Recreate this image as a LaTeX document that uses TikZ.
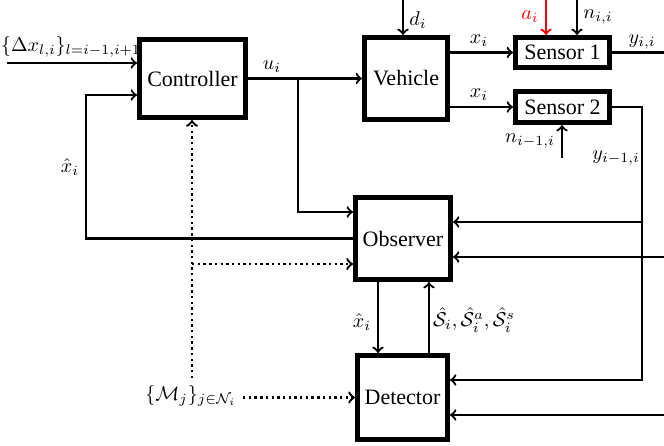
\documentclass[tikz,border=0pt]{standalone}
\usepackage[no-math]{fontspec}
\setmainfont{Liberation Serif}
\newfontfamily\tmsfont{Liberation Serif}
\begin{document}
\begin{tikzpicture}[x=0.5pt,y=-0.5pt, font=\tmsfont\fontsize{10}{12}\selectfont,
  blk/.style={draw, line width=2.5pt, inner sep=0pt, fill=white, font=\tmsfont\fontsize{11}{13}\selectfont},
  lbl/.style={inner sep=0pt},
  conn/.style={line width=1.1pt},
  arr/.style={conn,->},
  dots/.style={line width=1.2pt, dash pattern=on 1.2pt off 1.65pt, ->}]
\useasboundingbox (0,0) rectangle (664,445);
% blocks
\node[blk, minimum width=53pt, minimum height=39pt] (ctrl) at (192.5,78.5) {Controller};
\node[blk, minimum width=41.5pt, minimum height=41pt] (veh) at (406,78.5) {Vehicle};
\node[blk, minimum width=47pt, minimum height=15pt] (s1) at (562.5,52.5) {Sensor 1};
\node[blk, minimum width=47pt, minimum height=15.5pt] (s2) at (562.5,107) {Sensor 2};
\node[blk, minimum width=47.5pt, minimum height=41pt] (obs) at (403,238.5) {Observer};
\node[blk, minimum width=45pt, minimum height=42pt] (det) at (402.5,397.5) {Detector};
% coordinates
\coordinate (in) at (7,63);
\coordinate (fb) at (86,95);
\coordinate (ub) at (298,78.5);
\coordinate (ub2) at (298,212);
\coordinate (mt) at (192,378);
\coordinate (mb) at (192,264);
\coordinate (ms) at (243,397.5);
\coordinate (dtop) at (403,0);
\coordinate (atop) at (546,0);
\coordinate (ntop) at (577,0);
\coordinate (y1) at (664,52.5);
\coordinate (c2) at (642,107);
\coordinate (c3) at (642,380);
\coordinate (c4) at (642,222);
\coordinate (r1) at (664,257);
\coordinate (r2) at (664,415);
\coordinate (nb) at (562,158);
\coordinate (od) at (378,300);
\coordinate (do) at (429,300);
% connectors
\draw[arr] (in) -- (in -| ctrl.west);
\draw[arr] (obs.west) -| (fb) -- (fb -| ctrl.west);
\draw[arr] (ctrl.east) -- (veh.west |- ctrl.east);
\draw[arr] (ub) -- (ub2) -- (ub2 -| obs.west);
\draw[dots] (mt) -- (mt |- ctrl.south);
\draw[dots] (mb) -- (mb -| obs.west);
\draw[dots] (ms) -- (ms -| det.west);
\draw[arr] (dtop) -- (dtop |- veh.north);
\draw[arr] (veh.east |- s1.west) -- (s1.west);
\draw[arr] (veh.east |- s2.west) -- (s2.west);
\draw[arr, red] (atop) -- (atop |- s1.north);
\draw[arr] (ntop) -- (ntop |- s1.north);
\draw[conn] (s1.east) -- (y1);
\draw[arr] (s2.east) -- (c2) -- (c3) -- (c3 -| det.east);
\draw[arr] (c4) -- (c4 -| obs.east);
\draw[arr] (r1) -- (r1 -| obs.east);
\draw[arr] (r2) -- (r2 -| det.east);
\draw[arr] (nb) -- (nb |- s2.south);
\draw[arr] (od |- obs.south) -- (od |- det.north);
\draw[arr] (do |- det.north) -- (do |- obs.south);
% labels
\node[lbl] (lin) at (71,47) {$\{\Delta x_{l,i}\}_{l=i-1,i+1}$};
\node[lbl] (lu) at (272,67) {$u_i$};
\node[lbl] (lxh) at (70,167) {$\hat{x}_i$};
\node[lbl] (ld) at (418,20) {$d_i$};
\node[lbl, text=red] (la) at (530,17) {$a_i$};
\node[lbl] (ln) at (598,17) {$n_{i,i}$};
\node[lbl] (lx1) at (479,41) {$x_i$};
\node[lbl] (lx2) at (479,95) {$x_i$};
\node[lbl] (ly1) at (642,42) {$y_{i,i}$};
\node[lbl] (ln2) at (530,141) {$n_{i-1,i}$};
\node[lbl] (ly2) at (616,158) {$y_{i-1,i}$};
\node[lbl] (lxh2) at (362,322) {$\hat{x}_i$};
\node[lbl] (ls) at (474,320) {$\hat{\mathcal{S}}_i, \hat{\mathcal{S}}_i^a, \hat{\mathcal{S}}_i^s$};
\node[lbl] (lm) at (191,396) {$\{\mathcal{M}_j\}_{j\in\mathcal{N}_i}$};
\end{tikzpicture}
\end{document}
